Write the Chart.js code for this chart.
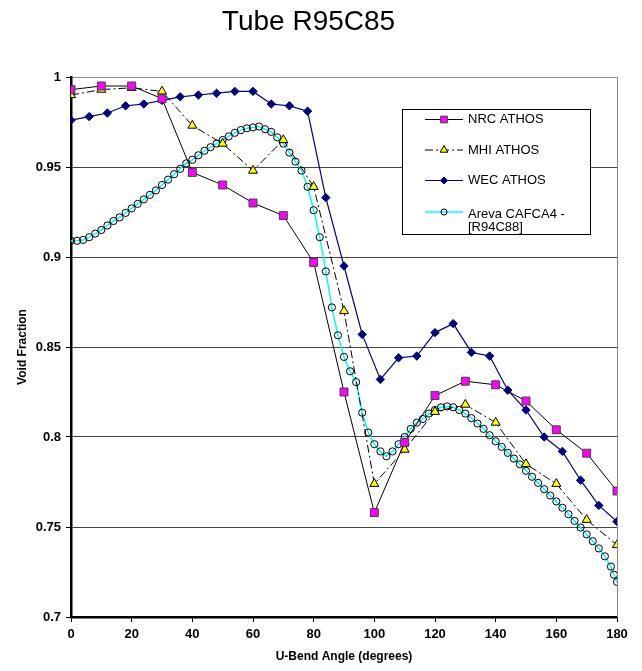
<!DOCTYPE html>
<html lang="en">
<head>
  <meta charset="UTF-8" />
  <title>Tube R95C85</title>
  <script src="https://cdn.jsdelivr.net/npm/chart.js"></script>
  <style>
    body { margin: 0; background: #fff; }
    canvas { display: block; }
  </style>
</head>
<body>
  <canvas id="chart" width="642" height="671"></canvas>

  <script>
    // NRC + MHI ATHOS, every 10 degrees
    const angles10 = [0, 10, 20, 30, 40, 50, 60, 70, 80, 90, 100, 110, 120, 130, 140, 150, 160, 170, 180];
    const nrcAthos = [0.993, 0.995, 0.995, 0.988, 0.947, 0.940, 0.930, 0.923, 0.897, 0.825, 0.758, 0.797, 0.823, 0.831, 0.829, 0.820, 0.804, 0.791, 0.770];
    const mhiAthos = [0.990, 0.993, 0.994, 0.992, 0.973, 0.963, 0.948, 0.965, 0.939, 0.870, 0.774, 0.793, 0.814, 0.818, 0.808, 0.785, 0.774, 0.754, 0.740];

    // WEC ATHOS, every 6 degrees
    const angles6 = [0, 6, 12, 18, 24, 30, 36, 42, 48, 54, 60, 66, 72, 78, 84, 90, 96, 102, 108, 114, 120, 126, 132, 138, 144, 150, 156, 162, 168, 174, 180];
    const wecAthos = [0.976, 0.978, 0.980, 0.984, 0.985, 0.987, 0.989, 0.990, 0.991, 0.992, 0.992, 0.985, 0.984, 0.981, 0.933, 0.895, 0.857, 0.832, 0.844, 0.845, 0.858, 0.863, 0.847, 0.845, 0.826, 0.815, 0.800, 0.792, 0.776, 0.762, 0.753];

    // Areva CAFCA4 (R94C88)
    const anglesAreva = [0, 2, 4, 6, 8, 10, 12, 14, 16, 18, 20, 22, 24, 26, 28, 30, 32, 34, 36, 38, 40, 42, 44, 46, 48, 50, 52, 54, 56, 58,
      60, 62, 64, 66, 68, 70, 72, 74, 76, 78, 80, 82, 84, 86, 88, 90, 92, 94, 96, 98, 100, 102, 104, 106, 108, 110, 112, 114, 116, 118,
      120, 122, 124, 126, 128, 130, 132, 134, 136, 138, 140, 142, 144, 146, 148, 150, 152, 154, 156, 158, 160, 162, 164, 166, 168, 170,
      172, 174, 176, 178, 179, 180];
    const arevaCafca = [0.909, 0.909, 0.9095, 0.911, 0.913, 0.915, 0.9175, 0.920, 0.922, 0.9245, 0.927, 0.9295, 0.932, 0.9345, 0.937,
      0.940, 0.943, 0.946, 0.949, 0.952, 0.954, 0.9565, 0.959, 0.961, 0.963, 0.965, 0.967, 0.969, 0.9705, 0.9715,
      0.972, 0.9725, 0.971, 0.9695, 0.9665, 0.963, 0.958, 0.953, 0.948, 0.939, 0.926, 0.911, 0.892, 0.872, 0.8565,
      0.8445, 0.8365, 0.8305, 0.8135, 0.8025, 0.796, 0.792, 0.7893, 0.792, 0.796, 0.800, 0.8045, 0.808, 0.810, 0.813,
      0.815, 0.8165, 0.817, 0.8165, 0.815, 0.813, 0.8105, 0.8075, 0.8045, 0.801, 0.7976, 0.7945, 0.7912, 0.788, 0.7848,
      0.7812, 0.7779, 0.7745, 0.771, 0.7675, 0.7642, 0.7607, 0.7571, 0.7534, 0.7497, 0.7459, 0.7421, 0.7381, 0.7337,
      0.728, 0.7235, 0.7195];

    const legendText = [["NRC ATHOS"], ["MHI ATHOS"], ["WEC ATHOS"], ["Areva CAFCA4 -", "[R94C88]"]];

    const FONT = "'Liberation Sans', Arial, sans-serif";
    Chart.defaults.font.family = FONT;
    Chart.defaults.color = "#000";

    function pts(xs, ys) {
      return xs.map((x, i) => ({ x: x, y: ys[i] }));
    }

    // grey frame on the right side of the plot
    const frame = {
      id: "frame",
      beforeDatasetsDraw(chart) {
        const { ctx, chartArea: a } = chart;
        ctx.save();
        ctx.strokeStyle = "#888";
        ctx.lineWidth = 1;
        ctx.beginPath();
        ctx.moveTo(Math.round(a.right) + 0.5, a.top);
        ctx.lineTo(Math.round(a.right) + 0.5, a.bottom);
        ctx.stroke();
        ctx.restore();
      }
    };

    // boxed legend inside the plot
    const legendBox = {
      id: "legendBox",
      afterDatasetsDraw(chart) {
        const ctx = chart.ctx;
        const rows = [119.5, 150, 180.5, 212];
        ctx.save();
        ctx.fillStyle = "#fff";
        ctx.strokeStyle = "#000";
        ctx.lineWidth = 1;
        ctx.fillRect(402.5, 109.5, 188, 125);
        ctx.strokeRect(402.5, 109.5, 188, 125);

        chart.data.datasets.forEach((ds, i) => {
          const y = rows[i];
          ctx.strokeStyle = ds.borderColor;
          ctx.lineWidth = ds.borderWidth;
          ctx.setLineDash(ds.borderDash || []);
          ctx.beginPath();
          ctx.moveTo(425, y);
          ctx.lineTo(463, y);
          ctx.stroke();
          ctx.setLineDash([]);

          ctx.fillStyle = ds.pointBackgroundColor;
          ctx.strokeStyle = ds.pointBorderColor;
          ctx.lineWidth = ds.pointBorderWidth;
          Chart.helpers.drawPoint(ctx, {
            pointStyle: ds.pointStyle,
            radius: ds.pointRadius * 0.85,
            rotation: 0,
            borderWidth: ds.pointBorderWidth
          }, 444, y);

          ctx.fillStyle = "#000";
          ctx.font = "13px " + FONT;
          ctx.textBaseline = "middle";
          ctx.textAlign = "left";
          legendText[i].forEach((t, j) => {
            ctx.fillText(t, 468, y + (j === 0 && legendText[i].length > 1 ? 2 : 0) + j * 15);
          });
        });
        ctx.restore();
      }
    };

    new Chart(document.getElementById("chart"), {
      type: "line",
      data: {
        datasets: [
          {
            label: "NRC ATHOS",
            data: pts(angles10, nrcAthos),
            borderColor: "#000",
            borderWidth: 1,
            pointStyle: "rect",
            pointRadius: 5.6,
            pointBackgroundColor: "#FF00FF",
            pointBorderColor: "#404040",
            pointBorderWidth: 1
          },
          {
            label: "MHI ATHOS",
            data: pts(angles10, mhiAthos),
            borderColor: "#000",
            borderWidth: 1,
            borderDash: [8, 3, 2, 3],
            pointStyle: "triangle",
            pointRadius: 5.2,
            pointBackgroundColor: "#FFFF00",
            pointBorderColor: "#000",
            pointBorderWidth: 1
          },
          {
            label: "WEC ATHOS",
            data: pts(angles6, wecAthos),
            borderColor: "#000080",
            borderWidth: 1.2,
            pointStyle: "rectRot",
            pointRadius: 4.2,
            pointBackgroundColor: "#000080",
            pointBorderColor: "#000080",
            pointBorderWidth: 1
          },
          {
            label: "Areva CAFCA4 - [R94C88]",
            data: pts(anglesAreva, arevaCafca),
            borderColor: "#00FFFF",
            borderWidth: 1.5,
            pointStyle: "circle",
            pointRadius: 3.6,
            pointBackgroundColor: "rgba(0,0,0,0)",
            pointBorderColor: "#000",
            pointBorderWidth: 1
          }
        ]
      },
      options: {
        responsive: false,
        animation: false,
        layout: { padding: { left: 0, right: 25, top: 0, bottom: 0 } },
        plugins: {
          legend: { display: false },
          tooltip: { enabled: false },
          title: {
            display: true,
            text: "Tube R95C85",
            color: "#000",
            font: { family: FONT, size: 28, weight: "normal" },
            padding: { top: 5, bottom: 38.4 }
          }
        },
        scales: {
          x: {
            type: "linear",
            min: 0,
            max: 180,
            ticks: { stepSize: 20, color: "#000", padding: 5, font: { size: 13, weight: "bold" } },
            grid: { drawOnChartArea: false, tickLength: 5, tickColor: "#000" },
            border: { color: "#000", width: 2.5 },
            title: {
              display: true,
              text: "U-Bend Angle (degrees)",
              color: "#000",
              font: { size: 12, weight: "bold" },
              padding: { top: 0, bottom: 7 }
            },
            afterFit: (s) => { s.height = 54; }
          },
          y: {
            min: 0.7,
            max: 1,
            ticks: {
              stepSize: 0.05,
              color: "#000",
              padding: 5,
              font: { size: 13, weight: "bold" },
              callback: (v) => String(Number(v.toFixed(2)))
            },
            grid: {
              tickLength: 5,
              tickColor: "#000",
              color: (c) => {
                const v = c.tick ? c.tick.value : 0;
                if (Math.abs(v - 1) < 1e-6) return "#888";
                if (Math.abs(v - 0.7) < 1e-6) return "rgba(0,0,0,0)";
                return "#444";
              }
            },
            border: { color: "#000", width: 2.5 },
            title: {
              display: true,
              text: "Void Fraction",
              color: "#000",
              font: { size: 12, weight: "bold" },
              padding: { top: 15, bottom: 0 }
            },
            afterFit: (s) => { s.width = 71; }
          }
        }
      },
      plugins: [frame, legendBox]
    });
  </script>
</body>
</html>
